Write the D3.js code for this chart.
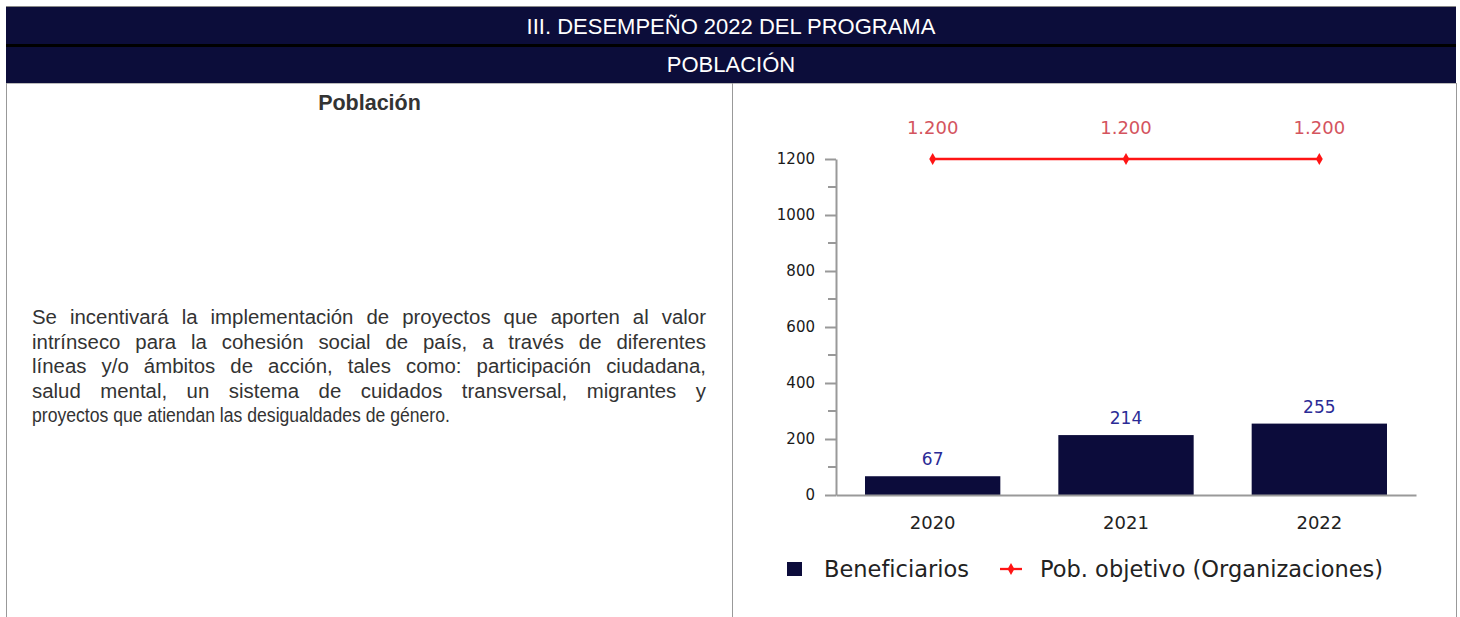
<!DOCTYPE html>
<html lang="es">
<head>
<meta charset="UTF-8">
<title>Población</title>
<script src="https://d3js.org/d3.v7.min.js"></script>
<style>
    body {
        margin: 0;
        background: #fff;
        font-family: "Liberation Sans", Arial, sans-serif;
        overflow: hidden;
    }
    #page {
        position: absolute;
        left: 0;
        top: 0;
        width: 1460px;
        height: 617px;
    }
    .band {
        position: absolute;
        left: 6px;
        width: 1450px;
        background: #0c0d3a;
        color: #fff;
        font-size: 22px;
        text-align: center;
    }
    #band1 { top: 6px; height: 38px; line-height: 40px; border-top: 1px solid #888; }
    #band2 { top: 47px; height: 36px; line-height: 36px; }
    #sep { position: absolute; left: 6px; width: 1450px; top: 44px; height: 3px; background: #000; }
    .vline { position: absolute; top: 83px; height: 540px; width: 1px; background: #999; }
    #hline { position: absolute; left: 6px; width: 1450px; top: 83px; height: 1px; background: #bbb; }
    #cellTitle {
        position: absolute;
        left: 7px;
        width: 725px;
        top: 91px;
        text-align: center;
        font-weight: bold;
        font-size: 21.5px;
        color: #333;
    }
    #para {
        position: absolute;
        left: 32px;
        width: 674px;
        top: 305px;
        font-size: 20px;
        line-height: 24.5px;
        color: #333;
    }
    #para .ln {
        text-align: justify;
        text-align-last: justify;
        white-space: nowrap;
        transform-origin: 0 0;
    }
    #para .ln.last { text-align-last: left; }
    #chart { position: absolute; left: 0; top: 0; }
    #chart text { font-family: "DejaVu Sans", sans-serif; }
</style>
</head>
<body>
<div id="page">
    <div class="band" id="band1">III. DESEMPEÑO 2022 DEL PROGRAMA</div>
    <div id="sep"></div>
    <div class="band" id="band2">POBLACIÓN</div>
    <div id="hline"></div>
    <div class="vline" style="left:6px"></div>
    <div class="vline" style="left:732px"></div>
    <div class="vline" style="left:1456px"></div>
    <div id="cellTitle">Población</div>
    <div id="para"></div>
</div>
<svg id="chart" width="1460" height="617"></svg>

<script>
    // data
    const years = ["2020", "2021", "2022"];
    const beneficiarios = [67, 214, 255];
    const pobObjetivo = [1200, 1200, 1200];
    const yTicks = [0, 200, 400, 600, 800, 1000, 1200];
    const yMinorTicks = [100, 300, 500, 700, 900, 1100];
    const legendLabels = ["Beneficiarios", "Pob. objetivo (Organizaciones)"];
    const paraLines = [
        "Se incentivará la implementación de proyectos que aporten al valor",
        "intrínseco para la cohesión social de país, a través de diferentes",
        "líneas y/o ámbitos de acción, tales como: participación ciudadana,",
        "salud mental, un sistema de cuidados transversal, migrantes y",
        "proyectos que atiendan las desigualdades de género."
    ];

    // paragraph: justified lines, each with its own horizontal squeeze
    const paraWidth = 674;
    const lineScale = (i) => i === paraLines.length - 1 ? 0.88 : 1.02;
    d3.select("#para").selectAll("div")
        .data(paraLines)
        .enter().append("div")
        .attr("class", (d, i) => i === paraLines.length - 1 ? "ln last" : "ln")
        .style("width", (d, i) => (paraWidth / lineScale(i)) + "px")
        .style("transform", (d, i) => `scaleX(${lineScale(i)})`)
        .text(d => d);

    const es = d3.formatLocale({ decimal: ",", thousands: ".", grouping: [3], currency: ["$", ""] });
    const fmt = es.format(",d");

    const navy = "#0c0c3b";
    const red = "#ff1414";

    const svg = d3.select("#chart");

    const x = d3.scaleBand()
        .domain(years)
        .range([836, 1416])
        .paddingInner(0.3)
        .paddingOuter(0.15);

    const y = d3.scaleLinear()
        .domain([0, 1200])
        .range([495, 159]);

    // minor ticks
    svg.append("g")
        .selectAll("line")
        .data(yMinorTicks)
        .enter().append("line")
        .attr("x1", 828).attr("x2", 836)
        .attr("y1", d => y(d)).attr("y2", d => y(d))
        .attr("stroke", "#999").attr("stroke-width", 2);

    // y axis
    const yAxis = svg.append("g")
        .attr("transform", "translate(836,0)")
        .call(d3.axisLeft(y).tickValues(yTicks).tickSize(11).tickPadding(10).tickSizeOuter(0).tickFormat(d3.format("d")));
    yAxis.select(".domain").attr("stroke", "#999").attr("stroke-width", 2);
    yAxis.selectAll(".tick line").attr("stroke", "#999").attr("stroke-width", 2);
    yAxis.selectAll(".tick text").attr("fill", "#1a1a1a").style("font-size", "15px");

    // bars
    svg.append("g")
        .selectAll("rect")
        .data(beneficiarios)
        .enter().append("rect")
        .attr("x", (d, i) => x(years[i]))
        .attr("width", x.bandwidth())
        .attr("y", d => y(d))
        .attr("height", d => y(0) - y(d))
        .attr("fill", navy);

    // x axis
    const xAxis = svg.append("g")
        .attr("transform", "translate(0,495)")
        .call(d3.axisBottom(x).tickSize(0).tickPadding(21).tickSizeOuter(0));
    xAxis.select(".domain").attr("stroke", "#999").attr("stroke-width", 2);
    xAxis.selectAll(".tick text").attr("fill", "#222").style("font-size", "18px");

    // bar labels
    svg.append("g")
        .selectAll("text")
        .data(beneficiarios)
        .enter().append("text")
        .attr("x", (d, i) => x(years[i]) + x.bandwidth() / 2)
        .attr("y", d => y(d) - 11)
        .attr("text-anchor", "middle")
        .attr("fill", "#2b2b96")
        .style("font-size", "17px")
        .text(d => fmt(d));

    // target line
    const line = d3.line()
        .x((d, i) => x(years[i]) + x.bandwidth() / 2)
        .y(d => y(d));

    svg.append("path")
        .datum(pobObjetivo)
        .attr("d", line)
        .attr("fill", "none")
        .attr("stroke", red)
        .attr("stroke-width", 2.3);

    const diamond = d3.symbol().type(d3.symbolDiamond).size(40);

    svg.append("g")
        .selectAll("path")
        .data(pobObjetivo)
        .enter().append("path")
        .attr("d", diamond)
        .attr("transform", (d, i) => `translate(${x(years[i]) + x.bandwidth() / 2},${y(d)})`)
        .attr("fill", red);

    svg.append("g")
        .selectAll("text")
        .data(pobObjetivo)
        .enter().append("text")
        .attr("x", (d, i) => x(years[i]) + x.bandwidth() / 2)
        .attr("y", d => y(d) - 25)
        .attr("text-anchor", "middle")
        .attr("fill", "#d4545e")
        .style("font-size", "18px")
        .text(d => fmt(d));

    // legend
    const legend = svg.append("g").attr("transform", "translate(787,569)");
    legend.append("rect")
        .attr("x", 0).attr("y", -7).attr("width", 15).attr("height", 14)
        .attr("fill", navy);
    legend.append("text")
        .attr("x", 37).attr("y", 7.5)
        .attr("fill", "#222")
        .style("font-size", "22.5px")
        .text(legendLabels[0]);
    legend.append("line")
        .attr("x1", 213).attr("x2", 235).attr("y1", 0).attr("y2", 0)
        .attr("stroke", red).attr("stroke-width", 2.3);
    legend.append("path")
        .attr("d", diamond)
        .attr("transform", "translate(224,0)")
        .attr("fill", red);
    legend.append("text")
        .attr("x", 253).attr("y", 7.5)
        .attr("fill", "#222")
        .style("font-size", "22.5px")
        .text(legendLabels[1]);
</script>
</body>
</html>
